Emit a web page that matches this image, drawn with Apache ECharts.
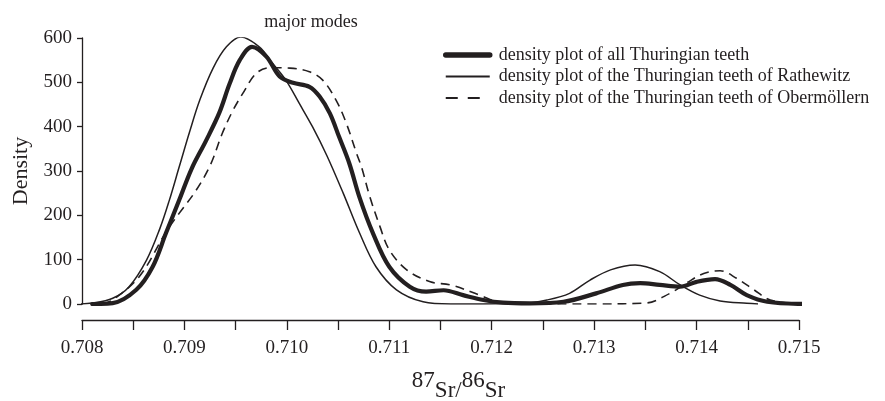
<!DOCTYPE html>
<html>
<head>
  <meta charset="utf-8" />
  <script src="https://cdn.jsdelivr.net/npm/echarts@6/dist/echarts.min.js"></script>
  <style>
    html, body { margin: 0; padding: 0; background: #fff; }
    #main { width: 885px; height: 401px; }
  </style>
  <title>Density plot</title>
</head>
<body>
  <div id="main"></div>
  <script>
    // tick labels of the x axis (only every second tick carries a label)
    var xTickLabels = ['0.708', '0.709', '0.710', '0.711', '0.712', '0.713', '0.714', '0.715'];
    var seriesNames = [
      'density plot of all Thuringian teeth',
      'density plot of the Thuringian teeth of Rathewitz',
      'density plot of the Thuringian teeth of Obermöllern'
    ];

    // all Thuringian teeth (thick)
    var allX = [0.7081, 0.7083, 0.70853, 0.70869, 0.70882, 0.70895, 0.70907, 0.70921, 0.70934, 0.70944,
      0.70954, 0.70966, 0.7098, 0.70993, 0.71006, 0.71022, 0.71032, 0.71042, 0.71051, 0.71061,
      0.71071, 0.71084, 0.711, 0.7112, 0.71136, 0.71153, 0.71172, 0.71192, 0.71211, 0.71237,
      0.7127, 0.71302, 0.71328, 0.71345, 0.71364, 0.71384, 0.714, 0.71418, 0.71433, 0.71449,
      0.71469, 0.71505];
    var allY = [0, 2, 32, 84, 160, 235, 305, 368, 431, 496,
      550, 580, 558, 513, 499, 490, 468, 430, 377, 317,
      240, 160, 84, 39, 28, 31, 20, 9, 3, 1.5,
      5, 24, 43, 47, 43, 39, 50, 56, 43, 20,
      5, 0];

    // Rathewitz (thin)
    var ratX = [0.70795, 0.7081, 0.7083, 0.70846, 0.70863, 0.70876, 0.70885, 0.70895, 0.70905, 0.70915,
      0.70928, 0.70941, 0.70955, 0.70973, 0.70986, 0.70999, 0.71012, 0.71025, 0.71039, 0.71055,
      0.71071, 0.71087, 0.71107, 0.71133, 0.7116, 0.7123, 0.71254, 0.71276, 0.71296, 0.71316,
      0.7134, 0.71364, 0.71384, 0.71403, 0.71423, 0.71449, 0.7146];
    var ratY = [0, 2, 13, 39, 99, 170, 232, 310, 388, 460,
      532, 580, 602, 580, 543, 505, 453, 400, 335, 250,
      160, 84, 32, 5, 0, 1, 9, 24, 54, 77,
      88, 73, 43, 20, 7, 1.5, 0];

    // Obermöllern (dashed)
    var oberX = [0.7082, 0.7083, 0.70856, 0.70882, 0.70895, 0.70911, 0.70925, 0.70937, 0.70947, 0.70957,
      0.7097, 0.70983, 0.71003, 0.71022, 0.71035, 0.71048, 0.71058, 0.71068, 0.71073, 0.71081,
      0.71091, 0.711, 0.71117, 0.7114, 0.7116, 0.71188, 0.71205, 0.7122, 0.713, 0.7135,
      0.71374, 0.7139, 0.71407, 0.71423, 0.71439, 0.71456, 0.71472, 0.715];
    var oberY = [0, 9, 62, 162, 205, 255, 312, 385, 435, 475,
      520, 533, 532, 524, 505, 460, 408, 340, 308, 242,
      174, 122, 77, 50, 43, 20, 5, 0, 0, 2,
      24, 47, 69, 75, 58, 32, 9, 0];

    function pairs(xs, ys) {
      var out = [];
      for (var i = 0; i < xs.length; i++) {
        out.push([xs[i], ys[i]]);
      }
      return out;
    }

    var ink = '#231f20';
    var serif = '"Liberation Serif", "Times New Roman", serif';
    var lineWidths = [4.2, 1.5, 1.6];

    var myChart = echarts.init(document.getElementById('main'));

    option = {
      animation: false,
      backgroundColor: '#fff',
      textStyle: { fontFamily: serif, color: ink },
      title: {
        text: 'major modes',
        left: 306,
        top: 8,
        textAlign: 'center',
        textStyle: { fontFamily: serif, fontSize: 18, fontWeight: 'normal', color: ink }
      },
      legend: {
        orient: 'vertical',
        left: 443,
        top: 46,
        padding: 0,
        itemWidth: 44,
        itemHeight: 14,
        itemGap: 3.5,
        itemStyle: { opacity: 0 },
        data: [
          { name: seriesNames[0], lineStyle: { width: 5.5, cap: 'round' } },
          { name: seriesNames[1], lineStyle: { width: 2 } },
          { name: seriesNames[2], lineStyle: { width: 2, type: [12, 10] } }
        ],
        textStyle: { fontFamily: serif, fontSize: 18, color: ink, padding: [0, 0, 0, 4] }
      },
      grid: {
        left: 82,
        right: 86,
        top: 38,
        bottom: 97,
        outerBoundsMode: 'none'
      },
      xAxis: {
        type: 'value',
        min: 0.708,
        max: 0.715,
        interval: 0.0005,
        offset: 16,
        name: '{n|87}{s|Sr/}{n|86}{s|Sr}',
        nameLocation: 'middle',
        nameGap: 49,
        nameTextStyle: {
          padding: [0, 0, 0, 36],
          rich: {
            n: { fontFamily: serif, fontSize: 23, color: ink, padding: [0, 0, 10, 0] },
            s: { fontFamily: serif, fontSize: 23, color: ink, padding: [10, 0, 0, 0] }
          }
        },
        splitLine: { show: false },
        axisLine: { onZero: false, lineStyle: { color: ink, width: 1.3 } },
        axisTick: { length: 10, lineStyle: { color: ink, width: 1.3 } },
        axisLabel: {
          margin: 19,
          fontFamily: serif,
          fontSize: 19,
          color: ink,
          showMinLabel: true,
          showMaxLabel: true,
          formatter: function (v) {
            var s = v.toFixed(3);
            var half = Math.round(v * 10000) % 10 !== 0;
            return (!half && xTickLabels.indexOf(s) >= 0) ? s : '';
          }
        }
      },
      yAxis: {
        type: 'value',
        min: 0,
        max: 600,
        interval: 100,
        name: 'Density',
        nameLocation: 'middle',
        nameGap: 41,
        nameTextStyle: { fontFamily: serif, fontSize: 22, color: ink },
        splitLine: { show: false },
        axisLine: { show: true, lineStyle: { color: ink, width: 1.3 } },
        axisTick: { show: true, length: 5, lineStyle: { color: ink, width: 1.3 } },
        axisLabel: { margin: 10, fontFamily: serif, fontSize: 19, color: ink }
      },
      series: [
        {
          name: seriesNames[0],
          type: 'line',
          data: pairs(allX, allY),
          smooth: 0.35,
          showSymbol: false,
          symbol: 'none',
          z: 3,
          lineStyle: { color: ink, width: lineWidths[0], cap: 'round' },
          itemStyle: { color: ink }
        },
        {
          name: seriesNames[1],
          type: 'line',
          data: pairs(ratX, ratY),
          smooth: 0.35,
          showSymbol: false,
          symbol: 'none',
          z: 2,
          lineStyle: { color: ink, width: lineWidths[1] },
          itemStyle: { color: ink }
        },
        {
          name: seriesNames[2],
          type: 'line',
          data: pairs(oberX, oberY),
          smooth: 0.35,
          showSymbol: false,
          symbol: 'none',
          z: 2,
          lineStyle: { color: ink, width: lineWidths[2], type: [9, 6] },
          itemStyle: { color: ink }
        }
      ]
    };
    myChart.setOption(option);
  </script>
</body>
</html>
